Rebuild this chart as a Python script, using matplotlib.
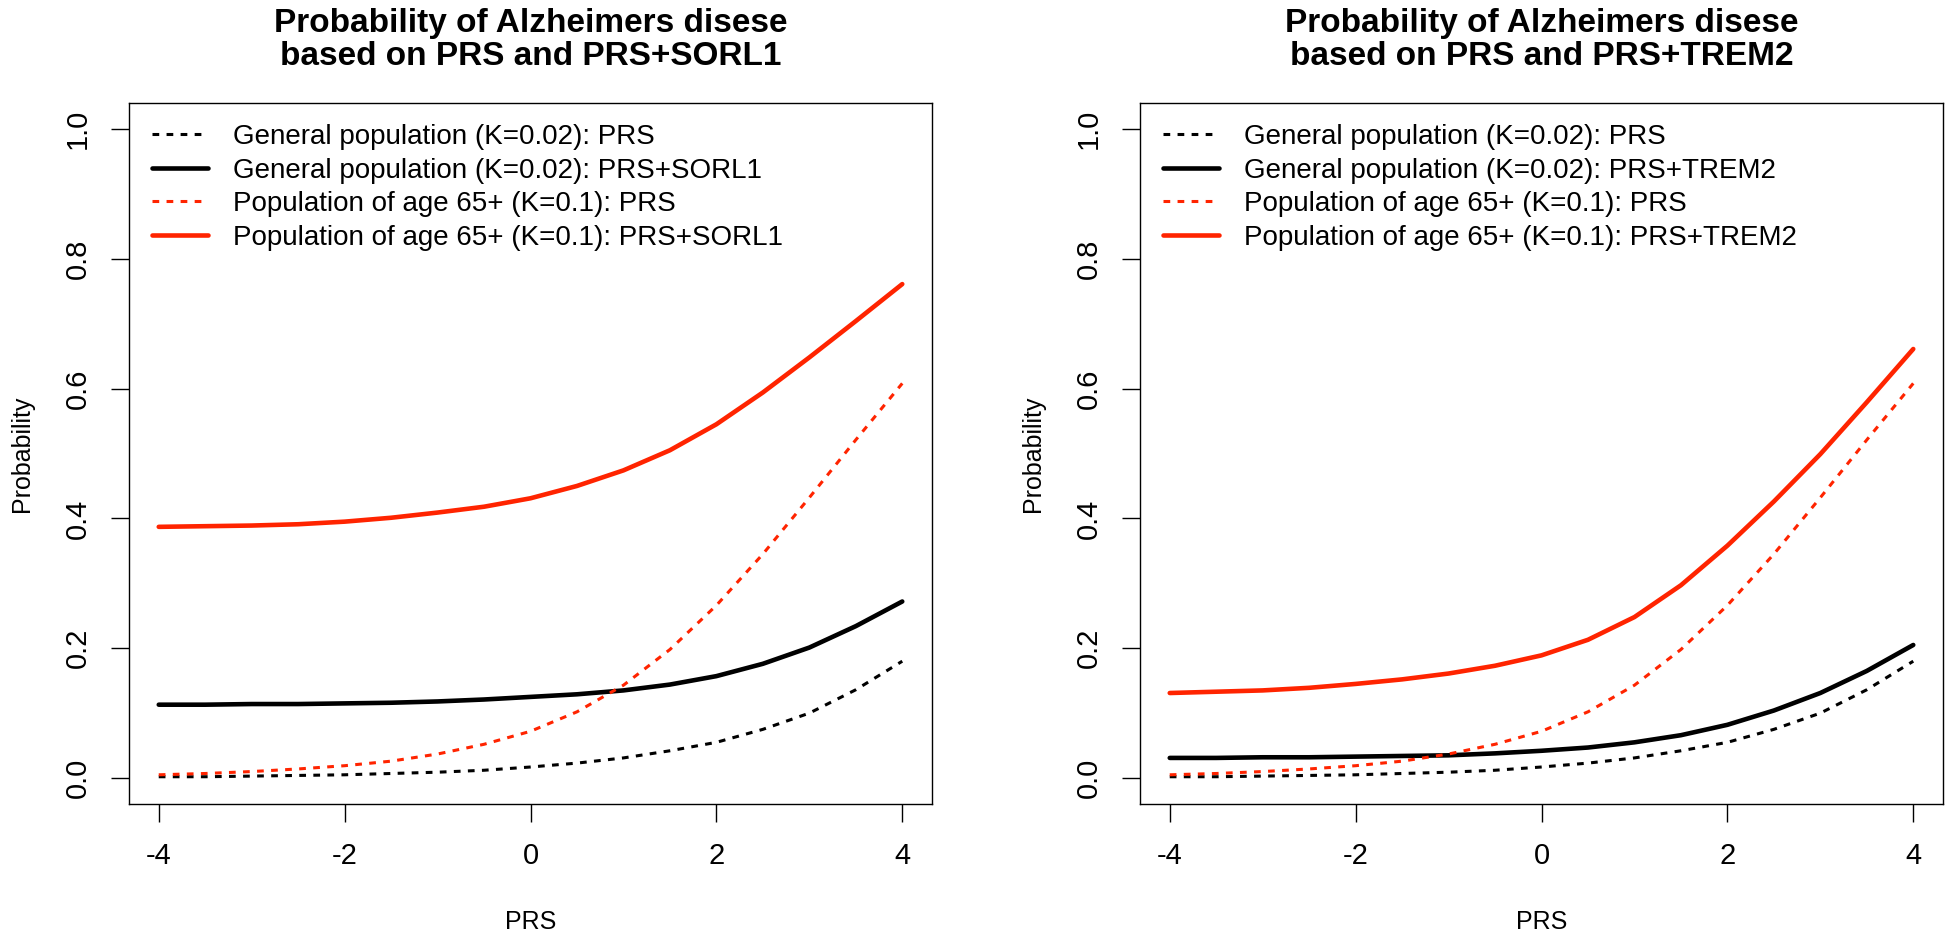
# Probability of Alzheimers disease curves, PRS vs PRS+gene
import numpy as np
import matplotlib.pyplot as plt

plt.rcParams['font.family'] = ['Liberation Sans', 'DejaVu Sans']

# PRS grid
prs = [-4, -3.5, -3, -2.5, -2, -1.5, -1, -0.5, 0, 0.5, 1, 1.5, 2, 2.5, 3, 3.5, 4]

# PRS only (same in both panels)
gen_prs = [0.002, 0.002, 0.003, 0.004, 0.005, 0.007, 0.009, 0.012, 0.017,
           0.023, 0.031, 0.042, 0.055, 0.075, 0.100, 0.136, 0.180]
old_prs = [0.005, 0.007, 0.010, 0.014, 0.019, 0.026, 0.037, 0.052, 0.072,
           0.102, 0.143, 0.198, 0.266, 0.345, 0.432, 0.521, 0.608]

# PRS+SORL1
gen_sorl1 = [0.113, 0.113, 0.114, 0.114, 0.115, 0.116, 0.118, 0.121, 0.125,
             0.129, 0.135, 0.144, 0.157, 0.176, 0.201, 0.234, 0.272]
old_sorl1 = [0.387, 0.388, 0.389, 0.391, 0.395, 0.401, 0.409, 0.418, 0.431,
             0.450, 0.474, 0.505, 0.545, 0.594, 0.648, 0.704, 0.761]

# PRS+TREM2
gen_trem2 = [0.031, 0.031, 0.032, 0.032, 0.033, 0.034, 0.035, 0.038, 0.042,
             0.047, 0.055, 0.066, 0.082, 0.104, 0.131, 0.165, 0.205]
old_trem2 = [0.131, 0.133, 0.135, 0.139, 0.145, 0.152, 0.161, 0.173, 0.189,
             0.213, 0.248, 0.297, 0.358, 0.426, 0.499, 0.579, 0.661]

genes = ['SORL1', 'TREM2']
gen_gene = [gen_sorl1, gen_trem2]
old_gene = [old_sorl1, old_trem2]

red = '#ff2400'
fig = plt.figure(figsize=(19.46, 9.35), dpi=100)
lefts = [129 / 1946, 1140 / 1946]

for k in range(2):
    ax = fig.add_axes([lefts[k], 1 - 804 / 935, 803 / 1946, 701 / 935])
    g = genes[k]
    ax.plot(prs, gen_prs, color='black', lw=2.2, ls=(0, (2.2, 2.4)),
            label='General population (K=0.02): PRS')
    ax.plot(prs, gen_gene[k], color='black', lw=3.3, solid_capstyle='round',
            solid_joinstyle='round',
            label='General population (K=0.02): PRS+' + g)
    ax.plot(prs, old_prs, color=red, lw=2.2, ls=(0, (2.2, 2.4)),
            label='Population of age 65+ (K=0.1): PRS')
    ax.plot(prs, old_gene[k], color=red, lw=3.3, solid_capstyle='round',
            solid_joinstyle='round',
            label='Population of age 65+ (K=0.1): PRS+' + g)
    ax.set_xlim(-4.32, 4.32)
    ax.set_ylim(-0.04, 1.04)
    ax.set_xticks([-4, -2, 0, 2, 4])
    ax.set_xticklabels(['-4', '-2', '0', '2', '4'])
    ax.set_yticks([0, 0.2, 0.4, 0.6, 0.8, 1.0])
    ax.set_yticklabels(['0.0', '0.2', '0.4', '0.6', '0.8', '1.0'],
                       rotation=90, va='center')
    ax.tick_params(direction='out', length=13, width=1, labelsize=21, pad=14)
    for s in ax.spines.values():
        s.set_linewidth(1)
    ax.set_xlabel('PRS', fontsize=18)
    ax.xaxis.set_label_coords(0.5, -0.168)
    ax.xaxis.label.set_va('center')
    ax.set_ylabel('Probability', fontsize=18)
    ax.yaxis.set_label_coords(-0.133, 0.5)
    ax.yaxis.label.set_va('center')
    ax.set_title('Probability of Alzheimers disese\nbased on PRS and PRS+' + g,
                 fontsize=24, fontweight='bold', y=1.054, va='baseline',
                 linespacing=1.1, pad=0)
    ax.legend(loc='upper left', bbox_to_anchor=(0.0286, 0.970), frameon=False,
              fontsize=20, handlelength=2.0, handletextpad=0.9, borderpad=0,
              borderaxespad=0, labelspacing=0.27)

plt.savefig('out.png', dpi=100)
